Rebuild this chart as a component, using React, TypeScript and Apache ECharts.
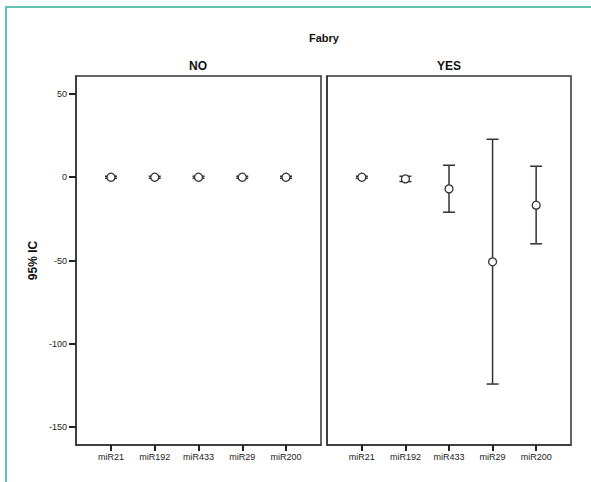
import React, { useEffect, useRef } from "react";
import * as echarts from "echarts";

const categories = ["miR21", "miR192", "miR433", "miR29", "miR200"];
const yTicks = [-150, -100, -50, 0, 50];
// NO group: mean, lower, upper
const noMean = [0, 0, 0, 0, 0];
const noLow = [-0.6, -0.6, -0.6, -0.6, -0.6];
const noHigh = [0.6, 0.6, 0.6, 0.6, 0.6];
// YES group
const yesMean = [0, -1, -7, -50.8, -16.8];
const yesLow = [-0.6, -2.6, -21, -124.2, -40];
const yesHigh = [0.6, 0.6, 7.2, 22.8, 6.6];

const FONT = "Liberation Sans, Arial, Helvetica, sans-serif";
const INK = "#333";

function buildData(mean: number[], low: number[], high: number[]) {
  return mean.map((m, i) => [i, m, low[i], high[i]]);
}

function renderItem(params: any, api: any) {
  const x = api.value(0);
  const pm = api.coord([x, api.value(1)]);
  const pl = api.coord([x, api.value(2)]);
  const ph = api.coord([x, api.value(3)]);
  const hw = 6;
  const style = { stroke: INK, lineWidth: 1.5, fill: "none" };
  return {
    type: "group",
    children: [
      { type: "line", shape: { x1: pl[0], y1: pl[1], x2: ph[0], y2: ph[1] }, style },
      { type: "line", shape: { x1: pl[0] - hw, y1: pl[1], x2: pl[0] + hw, y2: pl[1] }, style },
      { type: "line", shape: { x1: ph[0] - hw, y1: ph[1], x2: ph[0] + hw, y2: ph[1] }, style },
      { type: "circle", shape: { cx: pm[0], cy: pm[1], r: 4 }, style: { stroke: INK, lineWidth: 1.3, fill: "#fff" } },
    ],
  };
}

export default function App() {
  const ref = useRef<HTMLDivElement>(null);
  useEffect(() => {
    document.body.style.margin = "0";
    const chart = echarts.init(ref.current!, null, { renderer: "svg" });
    const xAxisBase = (gridIndex: number) => ({
      type: "value",
      gridIndex,
      min: -0.8,
      max: 4.8,
      splitLine: { show: false },
      axisLine: { show: true, onZero: false, lineStyle: { color: INK, width: 1.5 } },
      axisTick: { show: true, inside: false, customValues: [0, 1, 2, 3, 4], length: 6, lineStyle: { color: "#222", width: 2 } },
      axisLabel: {
        show: true,
        customValues: [0, 1, 2, 3, 4],
        formatter: (v: number) => categories[Math.round(v)] ?? "",
        fontFamily: FONT,
        fontSize: 9,
        color: "#222",
        margin: 7,
      },
    });
    const yAxisBase = (gridIndex: number, showLabels: boolean) => ({
      type: "value",
      gridIndex,
      min: -160.8,
      max: 60.8,
      splitLine: { show: false },
      axisLine: { show: true, onZero: false, lineStyle: { color: INK, width: 1.5 } },
      axisTick: { show: showLabels, inside: false, customValues: yTicks, length: 7, lineStyle: { color: "#222", width: 2 } },
      axisLabel: {
        show: showLabels,
        customValues: yTicks,
        fontFamily: FONT,
        fontSize: 9,
        color: "#222",
        margin: 9,
      },
      name: showLabels ? "95% IC" : "",
      nameLocation: "middle",
      nameRotate: 90,
      nameGap: 37,
      nameTextStyle: { fontFamily: FONT, fontSize: 12, fontWeight: "bold", color: "#111" },
    });
    chart.setOption({
      animation: false,
      backgroundColor: "#fff",
      grid: [
        { left: 76, top: 76, width: 245, height: 369, show: true, borderColor: INK, borderWidth: 1.5, backgroundColor: "#fff" },
        { left: 327, top: 76, width: 244, height: 369, show: true, borderColor: INK, borderWidth: 1.5, backgroundColor: "#fff" },
      ],
      xAxis: [xAxisBase(0), xAxisBase(1)],
      yAxis: [yAxisBase(0, true), yAxisBase(1, false)],
      graphic: [
        { type: "rect", shape: { x: 6, y: 7, width: 620, height: 520 }, style: { fill: "none", stroke: "#62c3b0", lineWidth: 2 }, z: 100 },
        { type: "text", x: 324, y: 38, style: { text: "Fabry", fontFamily: FONT, fontSize: 11, fontWeight: "bold", fill: "#111", align: "center", verticalAlign: "middle" } },
        { type: "text", x: 198, y: 66, style: { text: "NO", fontFamily: FONT, fontSize: 12, fontWeight: "bold", fill: "#111", align: "center", verticalAlign: "middle" } },
        { type: "text", x: 449, y: 66, style: { text: "YES", fontFamily: FONT, fontSize: 12, fontWeight: "bold", fill: "#111", align: "center", verticalAlign: "middle" } },
      ],
      series: [
        { type: "custom", xAxisIndex: 0, yAxisIndex: 0, renderItem, data: buildData(noMean, noLow, noHigh), clip: false },
        { type: "custom", xAxisIndex: 1, yAxisIndex: 1, renderItem, data: buildData(yesMean, yesLow, yesHigh), clip: false },
      ],
    });
    return () => chart.dispose();
  }, []);
  return <div ref={ref} style={{ width: 591, height: 482 }} />;
}
